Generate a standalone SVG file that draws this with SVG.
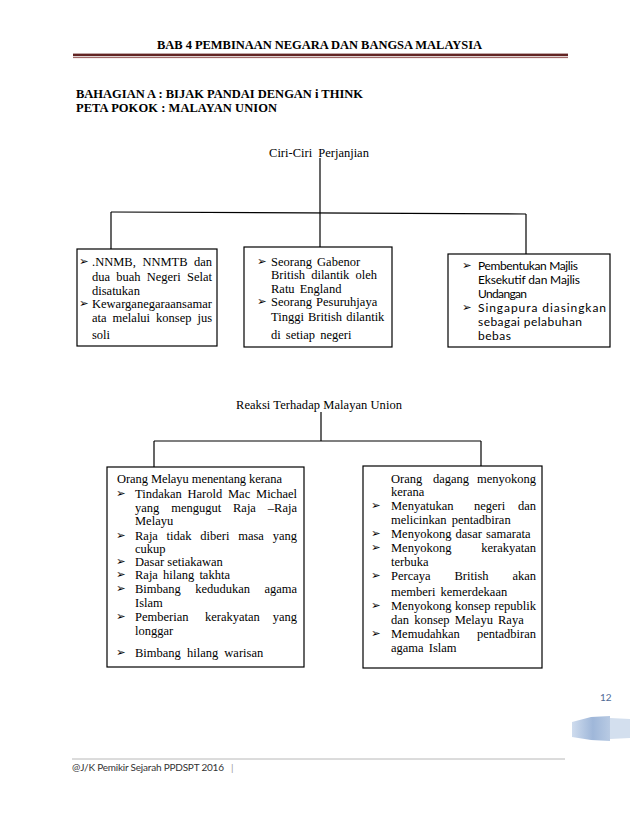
<svg xmlns="http://www.w3.org/2000/svg" width="638" height="826" viewBox="0 0 638 826">
<style>
.t{font-family:"Liberation Serif","Times New Roman",serif;font-size:12.5px;fill:#000}
.hb{font-family:"Liberation Serif","Times New Roman",serif;font-size:12.5px;font-weight:bold;fill:#000}
.c{font-family:Lato,"Open Sans",sans-serif;font-size:12px;fill:#000}
.bl{font-family:"DejaVu Sans",sans-serif;font-size:11.5px;fill:#000}
.box{fill:#fff;stroke:#000;stroke-width:1.2}
.conn line{stroke:#000;stroke-width:1.2}
.ft{font-family:Lato,"Open Sans",sans-serif;font-size:10px;fill:#333}
</style>
<defs>
<linearGradient id="rib" x1="0" y1="0" x2="1" y2="0">
<stop offset="0" stop-color="#cfdcee"/>
<stop offset="0.55" stop-color="#9fb7d9"/>
<stop offset="1" stop-color="#b8cae3"/>
</linearGradient>
</defs>
<rect width="638" height="826" fill="#fff"/>

<g id="header">
<text class="hb" x="157" y="49" textLength="325" lengthAdjust="spacing">BAB 4 PEMBINAAN NEGARA DAN BANGSA MALAYSIA</text>
<rect x="73" y="53.6" width="495" height="2.6" fill="#622423"/>
<line x1="73" y1="57.6" x2="568" y2="57.6" stroke="#8a4a48" stroke-width="0.9"/>
<text class="hb" x="76" y="98" textLength="287" lengthAdjust="spacing">BAHAGIAN A : BIJAK PANDAI DENGAN i THINK</text>
<text class="hb" x="76" y="112" textLength="201" lengthAdjust="spacing">PETA POKOK : MALAYAN UNION</text>
</g>

<g class="conn" id="connectors">
<line x1="320" y1="158" x2="320" y2="247"/>
<line x1="111" y1="212" x2="526" y2="214"/>
<line x1="111" y1="212" x2="111" y2="249"/>
<line x1="526" y1="214" x2="526" y2="254"/>
<line x1="321" y1="412" x2="321" y2="441"/>
<line x1="154" y1="441" x2="481" y2="441"/>
<line x1="154" y1="441" x2="154" y2="467"/>
<line x1="481" y1="441" x2="481" y2="466"/>
</g>

<g id="ciri">
<text class="t" x="319" y="157" text-anchor="middle" word-spacing="3">Ciri-Ciri Perjanjian</text>
</g>

<g id="box-left">
<rect class="box" x="77" y="249" width="140" height="97"/>
<text class="bl" x="79" y="265">➢</text>
<text class="t" y="266"><tspan x="92">.NNMB,</tspan><tspan x="142.4">NNMTB</tspan><tspan x="212" text-anchor="end">dan</tspan></text>
<text class="t" y="281"><tspan x="92">dua</tspan><tspan x="116.2">buah</tspan><tspan x="146.7">Negeri</tspan><tspan x="212" text-anchor="end">Selat</tspan></text>
<text class="t" x="92" y="295">disatukan</text>
<text class="bl" x="79" y="307">➢</text>
<text class="t" x="92" y="308" textLength="120" lengthAdjust="spacing">Kewarganegaraansamar</text>
<text class="t" y="322"><tspan x="92">ata</tspan><tspan x="112.6">melalui</tspan><tspan x="156.1">konsep</tspan><tspan x="212" text-anchor="end">jus</tspan></text>
<text class="t" x="92" y="339">soli</text>
</g>

<g id="box-middle">
<rect class="box" x="244" y="247" width="148" height="100"/>
<text class="bl" x="257" y="265">➢</text>
<text class="t" x="271" y="266" word-spacing="2">Seorang Gabenor</text>
<text class="t" x="271" y="279" word-spacing="3">British dilantik oleh</text>
<text class="t" x="271" y="293" word-spacing="2">Ratu England</text>
<text class="bl" x="257" y="305">➢</text>
<text class="t" x="271" y="306" word-spacing="1">Seorang Pesuruhjaya</text>
<text class="t" x="271" y="321" word-spacing="1">Tinggi British dilantik</text>
<text class="t" x="271" y="339" word-spacing="2">di setiap negeri</text>
</g>

<g id="box-right">
<rect class="box" x="448" y="254" width="162" height="93"/>
<text class="bl" x="462" y="269">➢</text>
<text class="c" x="478" y="270" textLength="100" lengthAdjust="spacing">Pembentukan Majlis</text>
<text class="c" x="478" y="284" textLength="102" lengthAdjust="spacing">Eksekutif dan Majlis</text>
<text class="c" x="478" y="298" textLength="49" lengthAdjust="spacing">Undangan</text>
<text class="bl" x="462" y="311">➢</text>
<text class="c" x="478" y="312" textLength="128" lengthAdjust="spacing">Singapura diasingkan</text>
<text class="c" x="478" y="326" textLength="104" lengthAdjust="spacing">sebagai pelabuhan</text>
<text class="c" x="478" y="340" textLength="33" lengthAdjust="spacing">bebas</text>
</g>

<g id="reaksi">
<text class="t" x="319" y="409" text-anchor="middle" textLength="166" lengthAdjust="spacing">Reaksi Terhadap Malayan Union</text>
</g>

<g id="box-melayu">
<rect class="box" x="107" y="467" width="197" height="200"/>
<text class="t" x="117" y="483" textLength="165" lengthAdjust="spacing">Orang Melayu menentang kerana</text>
<text class="bl" x="116" y="497">➢</text>
<text class="t" y="498"><tspan x="135">Tindakan</tspan><tspan x="187.5">Harold</tspan><tspan x="228">Mac</tspan><tspan x="297" text-anchor="end">Michael</tspan></text>
<text class="t" y="512"><tspan x="135">yang</tspan><tspan x="171.2">mengugut</tspan><tspan x="233">Raja</tspan><tspan x="297" text-anchor="end">–Raja</tspan></text>
<text class="t" x="135" y="525">Melayu</text>
<text class="bl" x="116" y="539">➢</text>
<text class="t" y="540"><tspan x="135">Raja</tspan><tspan x="166.6">tidak</tspan><tspan x="200.3">diberi</tspan><tspan x="238.2">masa</tspan><tspan x="297" text-anchor="end">yang</tspan></text>
<text class="t" x="135" y="553">cukup</text>
<text class="bl" x="116" y="565">➢</text>
<text class="t" x="135" y="566">Dasar setiakawan</text>
<text class="bl" x="116" y="578">➢</text>
<text class="t" x="135" y="579" word-spacing="2">Raja hilang takhta</text>
<text class="bl" x="116" y="592">➢</text>
<text class="t" y="593"><tspan x="135">Bimbang</tspan><tspan x="195.2">kedudukan</tspan><tspan x="297" text-anchor="end">agama</tspan></text>
<text class="t" x="135" y="607">Islam</text>
<text class="bl" x="116" y="620">➢</text>
<text class="t" y="621"><tspan x="135">Pemberian</tspan><tspan x="205">kerakyatan</tspan><tspan x="297" text-anchor="end">yang</tspan></text>
<text class="t" x="135" y="635">longgar</text>
<text class="bl" x="116" y="656">➢</text>
<text class="t" x="135" y="657" word-spacing="3">Bimbang hilang warisan</text>
</g>

<g id="box-dagang">
<rect class="box" x="363" y="466" width="179" height="202"/>
<text class="t" y="483"><tspan x="391">Orang</tspan><tspan x="433">dagang</tspan><tspan x="536" text-anchor="end">menyokong</tspan></text>
<text class="t" x="391" y="496">kerana</text>
<text class="bl" x="371" y="509">➢</text>
<text class="t" y="510"><tspan x="391">Menyatukan</tspan><tspan x="474">negeri</tspan><tspan x="536" text-anchor="end">dan</tspan></text>
<text class="t" x="391" y="524" word-spacing="2">melicinkan pentadbiran</text>
<text class="bl" x="371" y="537">➢</text>
<text class="t" x="391" y="538" word-spacing="1">Menyokong dasar samarata</text>
<text class="bl" x="371" y="551">➢</text>
<text class="t" y="552"><tspan x="391">Menyokong</tspan><tspan x="536" text-anchor="end">kerakyatan</tspan></text>
<text class="t" x="391" y="566">terbuka</text>
<text class="bl" x="371" y="579">➢</text>
<text class="t" y="580"><tspan x="391">Percaya</tspan><tspan x="454.5">British</tspan><tspan x="536" text-anchor="end">akan</tspan></text>
<text class="t" x="391" y="596" word-spacing="2">memberi kemerdekaan</text>
<text class="bl" x="371" y="609">➢</text>
<text class="t" y="610"><tspan x="391">Menyokong</tspan><tspan x="455">konsep</tspan><tspan x="536" text-anchor="end">republik</tspan></text>
<text class="t" x="391" y="624" word-spacing="2">dan konsep Melayu Raya</text>
<text class="bl" x="371" y="637">➢</text>
<text class="t" y="638"><tspan x="391">Memudahkan</tspan><tspan x="536" text-anchor="end">pentadbiran</tspan></text>
<text class="t" x="391" y="652" word-spacing="2">agama Islam</text>
</g>

<g id="footer">
<text x="600" y="701" style="font-family:Lato,'Open Sans',sans-serif;font-size:10px;fill:#4f6b96">12</text>
<polygon points="572,722 591,717 610,716 610,741 591,740 572,737" fill="url(#rib)"/>
<polygon points="610,718 630,719 630,738 610,739" fill="#d3dfee"/>
<line x1="72" y1="759" x2="565" y2="759" stroke="#a6a6a6" stroke-width="0.8"/>
<text class="ft" x="72" y="771" textLength="152" lengthAdjust="spacing">@J/K Pemikir Sejarah PPDSPT 2016</text>
<text class="ft" x="231" y="771" style="fill:#999">|</text>
</g>
</svg>
